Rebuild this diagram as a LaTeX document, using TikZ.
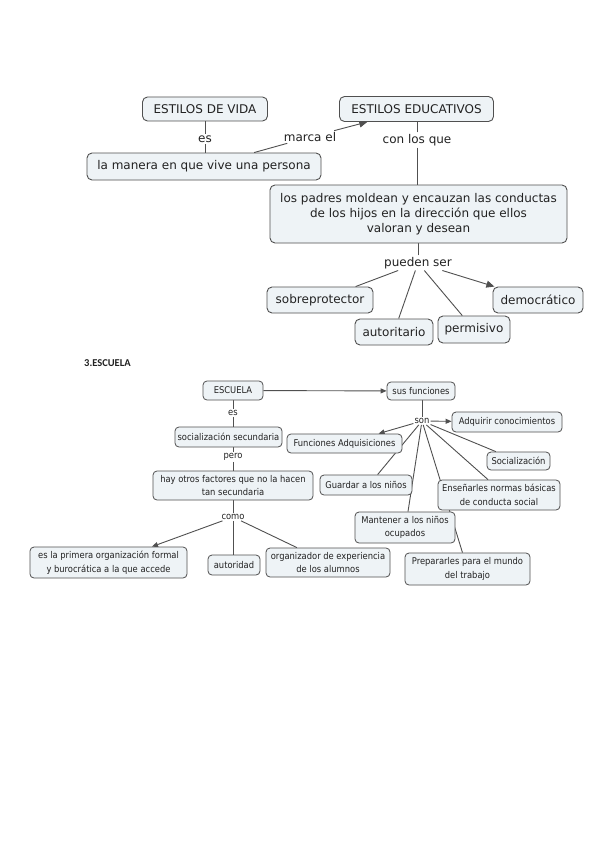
\documentclass[tikz,border=0pt]{standalone}
\usepackage{fontspec}
\setmainfont{DejaVu Sans}
\newfontfamily\condfont{DejaVu Sans Condensed}
\newfontfamily\headfont{Carlito}
\usetikzlibrary{arrows.meta,calc}
\pgfdeclarelayer{edges}
\pgfdeclarelayer{paper}
\pgfsetlayers{paper,edges,main}
\definecolor{boxfill}{RGB}{238,243,246}
\definecolor{boxline}{RGB}{80,80,80}
\definecolor{txt}{RGB}{34,34,34}
\definecolor{connc}{RGB}{80,80,80}
\tikzset{
  sz/.style 2 args={minimum width=#1pt, minimum height=#2pt},
  bigbox/.style={draw=boxline, fill=boxfill, rounded corners=5pt, line width=0.9pt, text=txt,
    font=\fontsize{12}{15}\selectfont, align=center, inner sep=0pt},
  smallbox/.style={draw=boxline, fill=boxfill, rounded corners=4pt, line width=0.8pt, text=txt,
    font=\condfont\fontsize{9.3}{13.5}\selectfont, align=center, inner sep=0pt},
  biglabel/.style={text=txt, font=\fontsize{12}{15}\selectfont, inner sep=1.5pt},
  smalllabel/.style={text=txt, font=\condfont\fontsize{9.3}{12}\selectfont, inner sep=1pt},
  conn/.style={draw=connc, line width=0.9pt},
  arr/.style={conn, -{Triangle[length=8pt,width=7pt]}},
  sarr/.style={conn, -{Triangle[length=6pt,width=5pt]}},
}
\begin{document}
\begin{tikzpicture}[x=1pt,y=-1pt]
\begin{pgfonlayer}{paper}
\fill[white] (0,0) rectangle (599,848);
\end{pgfonlayer}
\useasboundingbox (0,0) rectangle (599,848);
% ---------- top map ----------
\node[bigbox, sz={125}{24}] (edv) at (205,109) {ESTILOS DE VIDA};
\node[bigbox, sz={154}{25}] (ede) at (416.5,109) {ESTILOS EDUCATIVOS};
\node[bigbox, sz={234}{27}] (lmv) at (204,166.5) {la manera en que vive una persona};
\node[bigbox, sz={297}{58}] (big) at (418.5,214) {los padres moldean y encauzan las conductas\\de los hijos en la dirección que ellos\\valoran y desean};
\node[bigbox, sz={106}{26}] (sobre) at (320,300) {sobreprotector};
\node[bigbox, sz={78}{26}] (autor1) at (394,332) {autoritario};
\node[bigbox, sz={72}{27}] (perm) at (474,329.5) {permisivo};
\node[bigbox, sz={90}{26}] (demo) at (538,300) {democrático};
\node[biglabel] (es1) at (205,139) {es};
\node[biglabel] (marca) at (310,137) {marca el};
\node[biglabel] (con) at (417,140) {con los que};
\node[biglabel] (pueden) at (418,263) {pueden ser};
% ---------- heading ----------
\node[text=txt, font=\headfont\bfseries\fontsize{10.5}{12}\selectfont, anchor=west, inner sep=0pt] (head) at (84,363) {3.ESCUELA};
% ---------- bottom map ----------
\node[smallbox, sz={60}{19}] (esc) at (233,390.5) {ESCUELA};
\node[smallbox, sz={107}{20}] (soc) at (228.5,437) {socialización secundaria};
\node[smallbox, sz={160}{29}] (hay) at (233,485.5) {hay otros factores que no la hacen\\tan secundaria};
\node[smallbox, sz={157}{31}] (prim) at (108.5,562.5) {es la primera organización formal\\y burocrática a la que accede};
\node[smallbox, sz={52}{20}] (autor2) at (234,565) {autoridad};
\node[smallbox, sz={124}{29}] (org) at (328,562.5) {organizador de experiencia\\de los alumnos};
\node[smallbox, sz={68}{18}] (sus) at (421,391) {sus funciones};
\node[smallbox, sz={110}{20}] (adq) at (507,422) {Adquirir conocimientos};
\node[smallbox, sz={115}{19}] (fad) at (344.5,443.5) {Funciones Adquisiciones};
\node[smallbox, sz={63}{18}] (socz) at (518.5,461) {Socialización};
\node[smallbox, sz={92}{20}] (guar) at (366,485) {Guardar a los niños};
\node[smallbox, sz={122}{30}] (ens) at (499,495) {Enseñarles normas básicas\\de conducta social};
\node[smallbox, sz={100}{31}] (mant) at (405,527.5) {Mantener a los niños\\ocupados};
\node[smallbox, sz={125}{32}] (prep) at (467.5,569) {Prepararles para el mundo\\del trabajo};
\node[smalllabel] (es2) at (233,413) {es};
\node[smalllabel] (pero) at (233,457) {pero};
\node[smalllabel] (como) at (233,517) {como};
\node[smalllabel] (son) at (422,421) {son};
% ---------- connectors ----------
\begin{pgfonlayer}{edges}
\draw[conn] (es1) -- (es1 |- edv.south);
\draw[conn] (es1) -- (es1 |- lmv.north);
\draw[conn] (lmv) -- (marca);
\draw[arr] (marca) -- (ede);
\draw[conn] (con) -- (con |- ede.south);
\draw[conn] (con) -- (con |- big.north);
\draw[conn] (pueden) -- (pueden |- big.south);
\draw[conn] (pueden) -- (sobre);
\draw[conn] (pueden) -- (autor1);
\draw[conn] (pueden) -- (perm);
\draw[arr] (pueden) -- (demo);
% bottom
\draw[sarr] (esc) -- (sus);
\draw[conn] (es2) -- (es2 |- esc.south);
\draw[conn] (es2) -- (es2 |- soc.north);
\draw[conn] (pero) -- (pero |- soc.south);
\draw[conn] (pero) -- (pero |- hay.north);
\draw[conn] (como) -- (como |- hay.south);
\draw[sarr] (como) -- (prim);
\draw[conn] (como) -- (como |- autor2.north);
\draw[conn] (como) -- (org);
\draw[conn] (son) -- (son |- sus.south);
\draw[sarr] (son) -- (adq);
\draw[sarr] (son) -- (fad);
\draw[conn] (son) -- ($(guar.north)!0.25!(guar.north east)$);
\draw[conn] (son) -- ([xshift=3pt]mant.north);
\draw[conn] (son) -- (prep);
\draw[conn] (son) -- ([xshift=-11pt]ens.north);
\draw[conn] (son) -- (socz);
\end{pgfonlayer}
\end{tikzpicture}
\end{document}
